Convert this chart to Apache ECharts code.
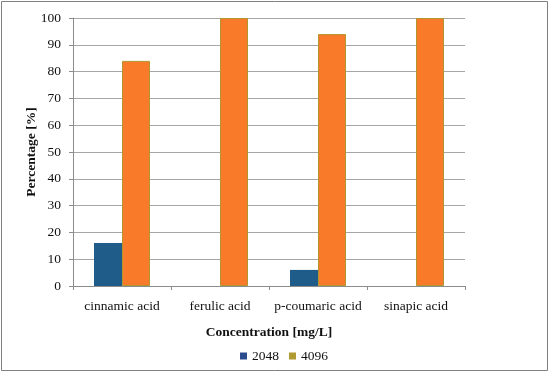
<!DOCTYPE html>
<html><head><meta charset="utf-8">
<script src="https://cdn.jsdelivr.net/npm/echarts@6/dist/echarts.min.js"></script>
<style>html,body{margin:0;padding:0;background:#fff}#c{width:550px;height:374px}</style>
</head><body><div id="c"></div>
<script>
var categories = ['cinnamic acid', 'ferulic acid', 'p-coumaric acid', 'sinapic acid'];
var values2048 = [16, 0, 6, 0];
var values4096 = [84, 100, 94, 100];
var seriesNames = ['2048', '4096'];
var yTicks = {min: 0, max: 100, interval: 10};

var FONT = '"Liberation Serif", "DejaVu Serif", serif';
var FS = 13.5;
var chart = echarts.init(document.getElementById('c'), null, {renderer: 'canvas'});
chart.setOption({
  animation: false,
  backgroundColor: '#fff',
  textStyle: {fontFamily: FONT, color: '#111'},
  graphic: [{type: 'rect', shape: {x: 1.5, y: 1.5, width: 546, height: 369}, style: {fill: 'none', stroke: '#808080', lineWidth: 1}}],
  grid: {left: 73, right: 85, top: 18, bottom: 88},
  legend: {
    left: 235, top: 344, itemWidth: 7, itemHeight: 7, itemGap: 10,
    textStyle: {fontFamily: FONT, fontSize: FS, color: '#111'},
    data: [
      {name: seriesNames[0], icon: 'rect', itemStyle: {color: '#2B4C8C', borderWidth: 0}},
      {name: seriesNames[1], icon: 'rect', itemStyle: {color: '#B09A32', borderWidth: 0}}
    ]
  },
  xAxis: {
    type: 'category', data: categories,
    name: 'Concentration [mg/L]', nameLocation: 'middle', nameGap: 40,
    nameTextStyle: {fontFamily: FONT, fontSize: FS, fontWeight: 'bold', color: '#111'},
    axisLine: {lineStyle: {color: '#8c8c8c', width: 1}},
    axisTick: {show: true, length: 4, lineStyle: {color: '#8c8c8c'}},
    axisLabel: {fontFamily: FONT, fontSize: FS, color: '#111', margin: 13, interval: 0}
  },
  yAxis: {
    type: 'value', min: yTicks.min, max: yTicks.max, interval: yTicks.interval,
    name: 'Percentage [%]', nameLocation: 'middle', nameGap: 34, nameRotate: 90,
    nameMoveOverlap: false,
    nameTextStyle: {fontFamily: FONT, fontSize: FS, fontWeight: 'bold', color: '#111'},
    axisLine: {show: true, lineStyle: {color: '#8c8c8c', width: 1}},
    axisTick: {show: true, length: 4, inside: false, lineStyle: {color: '#8c8c8c'}},
    axisLabel: {fontFamily: FONT, fontSize: FS, color: '#111', margin: 12},
    splitLine: {show: true, lineStyle: {color: '#a6a6a6', width: 1}}
  },
  series: [
    {name: seriesNames[0], type: 'bar', data: values2048, barWidth: 28, barGap: '0%',
     itemStyle: {color: '#1F5C8A', borderWidth: 0}},
    {name: seriesNames[1], type: 'bar', data: values4096, barWidth: 28, barGap: '0%',
     itemStyle: {color: '#F97A28', borderColor: '#B0962E', borderWidth: 1}}
  ]
});
</script></body></html>
